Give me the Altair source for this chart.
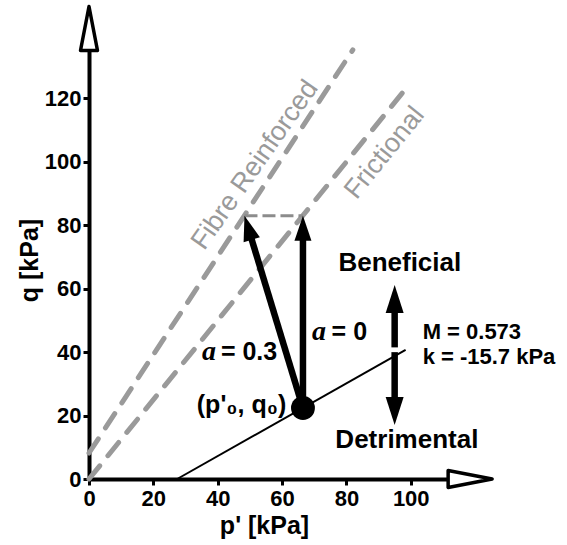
import math
import altair as alt
import pandas as pd

# Critical state line through the initial stress state: q = M p' + k
M = 0.573
k = -15.7
p0 = 66.5
q0 = M * p0 + k
q_peak = 83.0
a_values = [0.0, 0.3]

# Failure envelopes: q = slope * p' + intercept
env_names = ["Frictional", "Fibre Reinforced"]
env_slope = [1.25, 1.55]
env_intercept = [0.0, 8.2]
env_p_end = [98.0, 82.0]
csl_p_end = 98.4

x_ticks = list(range(0, 101, 10))
y_ticks = list(range(0, 131, 10))

# Beneficial / Detrimental double arrow
bd_p = 95.0
bd_up = [41.5, 61.2]
bd_down = [40.0, 17.0]

# plot geometry
X_MAX, Y_MAX = 115, 140
W, H = 370.0, 444.0
SX, SY = W / X_MAX, H / Y_MAX
LEFT, TOP = 89, 35
FONT = "Liberation Sans"


def head_path(length, half_w):
    hw = 2 * half_w / length
    return f"M0,0L{hw:.3f},2L{-hw:.3f},2Z"


def arrow(p_a, q_a, p_b, q_b, length, half_w):
    dxp = (p_b - p_a) * SX
    dyp = (q_b - q_a) * SY
    n = math.hypot(dxp, dyp)
    ux, uy = dxp / n, dyp / n
    back = length - 3
    shaft = dict(p=p_a, q=q_a, p2=p_b - ux * back / SX, q2=q_b - uy * back / SY)
    head = dict(p=p_b, q=q_b, angle=math.degrees(math.atan2(ux, uy)) % 360,
                shape=head_path(length, half_w), size=length ** 2)
    return shaft, head


shafts, heads = [], []
for a in a_values:
    s, h = arrow(p0, q0, p0 - a * (q_peak - q0), q_peak, 25, 8.5)
    shafts.append(s)
    heads.append(h)
for lo, hi in (bd_up, bd_down):
    s, h = arrow(bd_p, lo, bd_p, hi, 28, 9)
    shafts.append(s)
    heads.append(h)

shaft_df = pd.DataFrame(shafts)
head_df = pd.DataFrame(heads)

env_df = pd.DataFrame({
    "name": env_names,
    "p": [0.0, 0.0],
    "q": env_intercept,
    "p2": env_p_end,
    "q2": [i + s * e for s, i, e in zip(env_slope, env_intercept, env_p_end)],
})
peak_df = pd.DataFrame({"p": [p0 - a_values[1] * (q_peak - q0)], "p2": [p0], "q": [q_peak]})
csl_df = pd.DataFrame({"p": [-k / M], "q": [0.0], "p2": [csl_p_end], "q2": [M * csl_p_end + k]})
state_df = pd.DataFrame({"p": [p0], "q": [q0]})
axis_head_df = pd.DataFrame({
    "p": [0.0, 125.3], "q": [149.0, 0.0], "angle": [0.0, 90.0],
    "shape": [head_path(44, 8.5)] * 2, "size": [44 ** 2] * 2,
})

major = "datum.value % 20 === 0"
xs = alt.X("p:Q", scale=alt.Scale(domain=[0, X_MAX], nice=False, zero=False),
           axis=alt.Axis(values=x_ticks, labelExpr=f"{major} ? datum.label : ''",
                         tickSize={"condition": {"test": major, "value": 6}, "value": 3},
                         tickWidth=3, tickColor="black", domainWidth=4, domainColor="black",
                         labelFont=FONT, labelFontSize=22, labelFontWeight="bold", labelColor="black",
                         labelPadding=3, labelOverlap=False, labelFlush=False, grid=False,
                         title="p' [kPa]", titleFont=FONT, titleFontSize=25, titleFontWeight="bold",
                         titleColor="black", titleX=175, titleY=46, titleBaseline="middle",
                         titleAlign="center"))
ys = alt.Y("q:Q", scale=alt.Scale(domain=[0, Y_MAX], nice=False, zero=False),
           axis=alt.Axis(values=y_ticks, labelExpr=f"{major} ? datum.label : ''",
                         tickSize={"condition": {"test": major, "value": 6}, "value": 3},
                         tickWidth=3, tickColor="black", domainWidth=4, domainColor="black",
                         labelFont=FONT, labelFontSize=22, labelFontWeight="bold", labelColor="black",
                         labelPadding=2, labelOverlap=False, labelFlush=False, grid=False,
                         title="q [kPa]", titleFont=FONT, titleFontSize=25, titleFontWeight="bold",
                         titleColor="black", titleX=-60, titleY=225, titleAngle=270,
                         titleBaseline="middle", titleAlign="center"))

envelopes = alt.Chart(env_df).mark_rule(
    color="#9a9a9a", strokeWidth=5, strokeDash=[17, 13], strokeCap="round"
).encode(x=xs, y=ys, x2="p2:Q", y2="q2:Q")

peak_line = alt.Chart(peak_df).mark_rule(
    color="#8c8c8c", strokeWidth=3, strokeDash=[13, 5]
).encode(x="p:Q", x2="p2:Q", y="q:Q")

csl = alt.Chart(csl_df).mark_rule(color="black", strokeWidth=2).encode(
    x="p:Q", y="q:Q", x2="p2:Q", y2="q2:Q")

shaft_layer = alt.Chart(shaft_df).mark_rule(color="black", strokeWidth=6.5).encode(
    x="p:Q", y="q:Q", x2="p2:Q", y2="q2:Q")

head_layer = alt.Chart(head_df).mark_point(filled=True, color="black", opacity=1).encode(
    x="p:Q", y="q:Q",
    shape=alt.Shape("shape:N", scale=None, legend=None),
    size=alt.Size("size:Q", scale=None, legend=None),
    angle=alt.Angle("angle:Q", scale=None, legend=None))

state = alt.Chart(state_df).mark_circle(color="black", opacity=1, size=570).encode(
    x="p:Q", y="q:Q")

axis_heads = alt.Chart(axis_head_df).mark_point(
    filled=True, fill="white", stroke="black", strokeWidth=3.5, opacity=1, strokeJoin="round"
).encode(
    x="p:Q", y="q:Q",
    shape=alt.Shape("shape:N", scale=None, legend=None),
    size=alt.Size("size:Q", scale=None, legend=None),
    angle=alt.Angle("angle:Q", scale=None, legend=None))


def label(df, **mark):
    base = dict(font=FONT, color="black", baseline="middle")
    base.update(mark)
    return alt.Chart(df).mark_text(**base).encode(x="p:Q", y="q:Q", text="t:N")


env_labels = alt.Chart(pd.DataFrame({
    "p": [51.6, 91.9], "q": [99.0, 102.8], "t": ["Fibre Reinforced", "Frictional"],
    "ang": [305.0, 309.0]})).mark_text(
    font=FONT, fontSize=27, color="#9a9a9a", align="center", baseline="middle"
).encode(x="p:Q", y="q:Q", text="t:N", angle=alt.Angle("ang:Q", scale=None))

bd_labels = label(pd.DataFrame({"p": [96.6, 98.8], "q": [68.1, 12.3],
                                "t": ["Beneficial", "Detrimental"]}),
                  fontSize=26, fontWeight="bold", align="center")

csl_labels = label(pd.DataFrame({"p": [103.7, 103.7], "q": [46.3, 38.5],
                                 "t": [f"M = {M}", f"k = {k} kPa"]}),
                   fontSize=22, fontWeight="bold", align="left")

a_symbols = label(pd.DataFrame({"p": [69.3, 35.1], "q": [46.4, 40.1], "t": ["a", "a"]}),
                  font="Liberation Serif", fontStyle="italic", fontWeight="bold",
                  fontSize=28, align="left")

a_values_text = label(pd.DataFrame({"p": [75.4, 41.0], "q": [46.4, 40.1],
                                    "t": [f"= {a_values[0]:g}", f"= {a_values[1]:g}"]}),
                      fontSize=25, fontWeight="bold", align="left")

state_label = label(pd.DataFrame({"p": [33.5], "q": [23.3], "t": ["(p'\u2080, q\u2080)"]}),
                    fontSize=25, fontWeight="bold", align="left")

chart = alt.layer(
    envelopes, peak_line, csl, shaft_layer, head_layer, state, axis_heads,
    env_labels, bd_labels, csl_labels, a_symbols, a_values_text, state_label
).properties(
    width=W, height=H, autosize="none",
    padding={"left": LEFT, "top": TOP, "right": 567 - LEFT - W, "bottom": 545 - TOP - H},
).configure_view(stroke=None)

chart.save("out.html", embed_options={"renderer": "svg", "actions": False})
